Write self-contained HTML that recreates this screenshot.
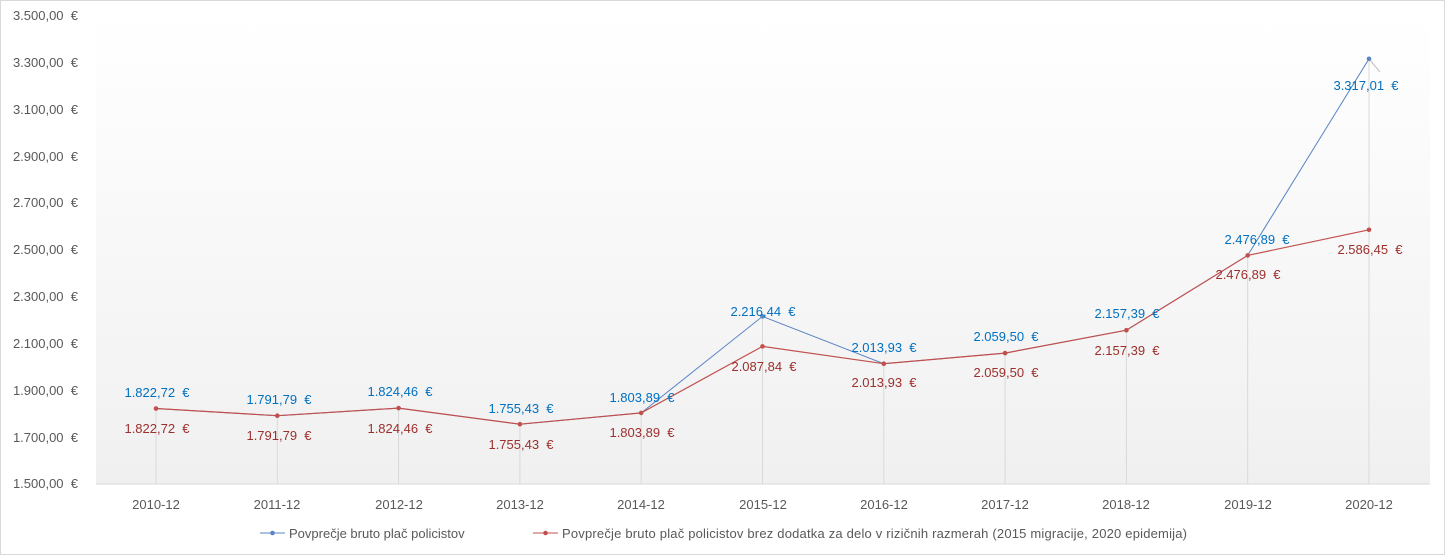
<!DOCTYPE html>
<html><head><meta charset="utf-8"><style>
body{margin:0;background:#fff}
svg text{font-family:"Liberation Sans",sans-serif;font-size:13px;white-space:pre}
</style></head><body>
<svg width="1445" height="555" xmlns="http://www.w3.org/2000/svg">
<defs><linearGradient id="g" x1="0" y1="0" x2="0" y2="1"><stop offset="0" stop-color="#ffffff"/><stop offset="1" stop-color="#f0f0f0"/></linearGradient></defs>
<rect x="0.5" y="0.5" width="1444" height="554" fill="#fff" stroke="#d9d9d9"/>
<rect x="96" y="16" width="1334" height="468" fill="url(#g)"/>
<g fill="#595959" text-anchor="end">
<text x="78" y="20">3.500,00  €</text><text x="78" y="67">3.300,00  €</text><text x="78" y="114">3.100,00  €</text><text x="78" y="161">2.900,00  €</text><text x="78" y="207">2.700,00  €</text><text x="78" y="254">2.500,00  €</text><text x="78" y="301">2.300,00  €</text><text x="78" y="348">2.100,00  €</text><text x="78" y="395">1.900,00  €</text><text x="78" y="442">1.700,00  €</text><text x="78" y="488">1.500,00  €</text>
</g>
<g stroke="#d9d9d9" stroke-width="1">
<line x1="156" y1="408.5" x2="156" y2="484"/><line x1="277.3" y1="415.7" x2="277.3" y2="484"/><line x1="398.6" y1="408.1" x2="398.6" y2="484"/><line x1="519.9" y1="424.2" x2="519.9" y2="484"/><line x1="641.2" y1="412.9" x2="641.2" y2="484"/><line x1="762.5" y1="316.4" x2="762.5" y2="484"/><line x1="883.8" y1="363.7" x2="883.8" y2="484"/><line x1="1005.1" y1="353.1" x2="1005.1" y2="484"/><line x1="1126.4" y1="330.2" x2="1126.4" y2="484"/><line x1="1247.7" y1="255.4" x2="1247.7" y2="484"/><line x1="1369" y1="58.8" x2="1369" y2="484"/>
<line x1="1369" y1="59" x2="1380" y2="72" stroke="#bfbfbf"/>
<line x1="96" y1="484" x2="1430" y2="484"/>
</g>
<polyline fill="none" stroke="#5b84c4" stroke-width="1" points="156,408.5 277.3,415.7 398.6,408.1 519.9,424.2 641.2,412.9 762.5,316.4 883.8,363.7 1005.1,353.1 1126.4,330.2 1247.7,255.4 1369,58.8"/>
<g fill="#5b84c4"><circle cx="762.5" cy="316.4" r="2.3"/><circle cx="1369" cy="58.8" r="2.3"/></g>
<polyline fill="none" stroke="#c0504d" stroke-width="1.2" points="156,408.5 277.3,415.7 398.6,408.1 519.9,424.2 641.2,412.9 762.5,346.4 883.8,363.7 1005.1,353.1 1126.4,330.2 1247.7,255.4 1369,229.8"/>
<g fill="#c0504d"><circle cx="156" cy="408.5" r="2.3"/><circle cx="277.3" cy="415.7" r="2.3"/><circle cx="398.6" cy="408.1" r="2.3"/><circle cx="519.9" cy="424.2" r="2.3"/><circle cx="641.2" cy="412.9" r="2.3"/><circle cx="762.5" cy="346.4" r="2.3"/><circle cx="883.8" cy="363.7" r="2.3"/><circle cx="1005.1" cy="353.1" r="2.3"/><circle cx="1126.4" cy="330.2" r="2.3"/><circle cx="1247.7" cy="255.4" r="2.3"/><circle cx="1369" cy="229.8" r="2.3"/></g>
<g fill="#0070c0" text-anchor="middle">
<text x="157" y="397">1.822,72  €</text><text x="279" y="404">1.791,79  €</text><text x="400" y="396">1.824,46  €</text><text x="521" y="413">1.755,43  €</text><text x="642" y="402">1.803,89  €</text><text x="763" y="316">2.216,44  €</text><text x="884" y="352">2.013,93  €</text><text x="1006" y="341">2.059,50  €</text><text x="1127" y="318">2.157,39  €</text><text x="1257" y="244">2.476,89  €</text><text x="1366" y="90">3.317,01  €</text>
</g>
<g fill="#9c2f2c" text-anchor="middle">
<text x="157" y="433">1.822,72  €</text><text x="279" y="440">1.791,79  €</text><text x="400" y="433">1.824,46  €</text><text x="521" y="449">1.755,43  €</text><text x="642" y="437">1.803,89  €</text><text x="764" y="371">2.087,84  €</text><text x="884" y="387">2.013,93  €</text><text x="1006" y="377">2.059,50  €</text><text x="1127" y="355">2.157,39  €</text><text x="1248" y="279">2.476,89  €</text><text x="1370" y="254">2.586,45  €</text>
</g>
<g fill="#595959" text-anchor="middle">
<text x="156" y="509">2010-12</text><text x="277" y="509">2011-12</text><text x="399" y="509">2012-12</text><text x="520" y="509">2013-12</text><text x="641" y="509">2014-12</text><text x="763" y="509">2015-12</text><text x="884" y="509">2016-12</text><text x="1005" y="509">2017-12</text><text x="1126" y="509">2018-12</text><text x="1248" y="509">2019-12</text><text x="1369" y="509">2020-12</text>
</g>
<line x1="260" y1="533" x2="285" y2="533" stroke="#5b84c4"/><circle cx="272.5" cy="533" r="2.3" fill="#5b84c4"/>
<text x="289" y="538" fill="#595959">Povprečje bruto plač policistov</text>
<line x1="533" y1="533" x2="558" y2="533" stroke="#c0504d"/><circle cx="545.5" cy="533" r="2.3" fill="#c0504d"/>
<text x="562" y="538" fill="#595959" textLength="625">Povprečje bruto plač policistov brez dodatka za delo v rizičnih razmerah (2015 migracije, 2020 epidemija)</text>
</svg>
</body></html>
